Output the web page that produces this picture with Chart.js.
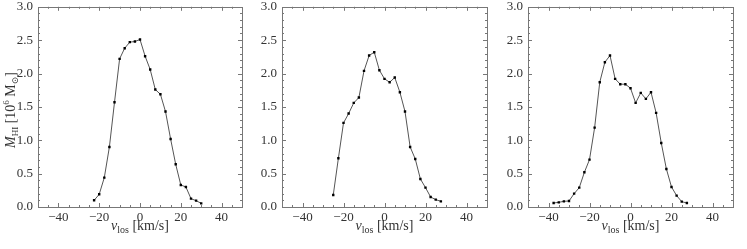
<!DOCTYPE html>
<html>
<head>
<meta charset="utf-8">
<script src="https://cdn.jsdelivr.net/npm/chart.js@4"></script>
<style>
  html, body { margin: 0; padding: 0; background: #fff; }
  #wrap { position: relative; width: 747px; height: 249px; overflow: hidden; }
  .panel { position: absolute; top: -6px; height: 255px; }
</style>
</head>
<body>
<div id="wrap">
  <div class="panel" id="p1" style="left:0px;width:246px"><canvas id="c1"></canvas></div>
  <div class="panel" id="p2" style="left:250px;width:241px"><canvas id="c2"></canvas></div>
  <div class="panel" id="p3" style="left:496px;width:241px"><canvas id="c3"></canvas></div>
</div>
<script>
// Line-of-sight velocity (km/s) and HI mass (10^6 Msun) per panel
const vlos1 = [-22.5, -20, -17.5, -15, -12.5, -10, -7.5, -5, -2.5, 0, 2.5, 5, 7.5, 10, 12.5, 15, 17.5, 20, 22.5, 25, 27.5, 30];
const mhi1  = [0.10, 0.19, 0.44, 0.90, 1.57, 2.22, 2.38, 2.47, 2.48, 2.51, 2.26, 2.06, 1.76, 1.69, 1.43, 1.02, 0.64, 0.33, 0.30, 0.125, 0.095, 0.055];

const vlos2 = [-25, -22.5, -20, -17.5, -15, -12.5, -10, -7.5, -5, -2.5, 0, 2.5, 5, 7.5, 10, 12.5, 15, 17.5, 20, 22.5, 25, 27.5];
const mhi2  = [0.18, 0.73, 1.26, 1.40, 1.56, 1.64, 2.04, 2.27, 2.32, 2.05, 1.92, 1.87, 1.94, 1.72, 1.43, 0.90, 0.72, 0.42, 0.29, 0.15, 0.11, 0.085];

const vlos3 = [-37.5, -35, -32.5, -30, -27.5, -25, -22.5, -20, -17.5, -15, -12.5, -10, -7.5, -5, -2.5, 0, 2.5, 5, 7.5, 10, 12.5, 15, 17.5, 20, 22.5, 25, 27.5];
const mhi3  = [0.06, 0.07, 0.085, 0.09, 0.20, 0.29, 0.52, 0.71, 1.19, 1.87, 2.17, 2.27, 1.92, 1.84, 1.84, 1.78, 1.56, 1.71, 1.62, 1.72, 1.41, 0.96, 0.57, 0.30, 0.17, 0.08, 0.06];

const xTicks = [-40, -20, 0, 20, 40];
const yTicks = [0, 0.5, 1.0, 1.5, 2.0, 2.5, 3.0];

const FONT = "'Liberation Serif', 'DejaVu Serif', serif";
const FRAME = '#777777';

// frame with inward major/minor ticks on all four sides
const framePlugin = {
    id: 'frame',
    afterDraw(chart) {
        const ctx = chart.ctx;
        const a = chart.chartArea;
        const xs = chart.scales.x, ys = chart.scales.y;
        ctx.save();
        ctx.strokeStyle = FRAME;
        ctx.lineWidth = 1;
        ctx.strokeRect(Math.round(a.left) + 0.5, Math.round(a.top) + 0.5,
                       Math.round(a.right - a.left), Math.round(a.bottom - a.top));
        ctx.beginPath();
        for (let v = -45; v <= 45; v += 5) {
            const px = Math.round(xs.getPixelForValue(v)) + 0.5;
            const len = (v % 20 === 0) ? 4 : 2;
            ctx.moveTo(px, a.bottom); ctx.lineTo(px, a.bottom - len);
            ctx.moveTo(px, a.top); ctx.lineTo(px, a.top + len);
        }
        for (let i = 1; i < 30; i++) {
            const v = i / 10;
            const py = Math.round(ys.getPixelForValue(v)) + 0.5;
            const len = (i % 5 === 0) ? 4 : 2;
            ctx.moveTo(a.left, py); ctx.lineTo(a.left + len, py);
            ctx.moveTo(a.right, py); ctx.lineTo(a.right - len, py);
        }
        ctx.stroke();
        ctx.restore();
    }
};

// draw a run of text pieces (mixed italic / sub / superscript)
function drawParts(ctx, parts, cx, baseline) {
    let total = 0;
    parts.forEach(p => { ctx.font = p.font; total += ctx.measureText(p.t).width; });
    let x = cx - total / 2;
    parts.forEach(p => {
        ctx.font = p.font;
        ctx.fillText(p.t, x, baseline + (p.dy || 0));
        x += ctx.measureText(p.t).width;
    });
}

// canvas is shifted up by 6px, so page y = canvas y - 6
const titlePlugin = {
    id: 'axisTitles',
    afterDraw(chart, args, opts) {
        const ctx = chart.ctx;
        const a = chart.chartArea;
        ctx.save();
        ctx.fillStyle = '#333333';
        ctx.textBaseline = 'alphabetic';
        ctx.textAlign = 'left';
        drawParts(ctx, [
            { t: 'v', font: 'italic 14px ' + FONT },
            { t: 'los', font: '10px ' + FONT, dy: 3 },
            { t: ' [km/s]', font: '14px ' + FONT }
        ], (a.left + a.right) / 2, 236);
        if (opts.yTitle) {
            ctx.translate(15, 116);
            ctx.rotate(-Math.PI / 2);
            drawParts(ctx, [
                { t: 'M', font: 'italic 14px ' + FONT },
                { t: 'HI', font: '9px ' + FONT, dy: 3 },
                { t: ' [10', font: '14px ' + FONT },
                { t: '6', font: '9px ' + FONT, dy: -6 },
                { t: ' M', font: '14px ' + FONT },
                { t: '\u2299', font: '9px ' + FONT, dy: 3 },
                { t: ']', font: '14px ' + FONT }
            ], 0, 0);
        }
        ctx.restore();
    }
};

function makePanel(id, vlos, mhi, yAxisWidth, showYTitle) {
    const points = vlos.map((v, i) => ({ x: v, y: mhi[i] }));
    return new Chart(document.getElementById(id), {
        type: 'line',
        data: {
            datasets: [{
                data: points,
                borderColor: '#555555',
                borderWidth: 1,
                pointStyle: 'rect',
                pointRadius: 1.7,
                pointBackgroundColor: '#000000',
                pointBorderColor: '#000000',
                pointBorderWidth: 0,
                tension: 0,
                fill: false
            }]
        },
        options: {
            responsive: true,
            maintainAspectRatio: false,
            animation: false,
            events: [],
            layout: { padding: { top: 0, right: 4, bottom: 0, left: 0 } },
            plugins: {
                legend: { display: false },
                tooltip: { enabled: false },
                axisTitles: { yTitle: showYTitle }
            },
            scales: {
                x: {
                    type: 'linear',
                    min: -50,
                    max: 50,
                    afterBuildTicks: s => { s.ticks = xTicks.map(v => ({ value: v })); },
                    afterFit: s => { s.height = 42; },
                    grid: { display: false, drawTicks: false, tickLength: 0 },
                    border: { display: false },
                    ticks: {
                        padding: 3,
                        color: '#333333',
                        font: { family: FONT, size: 13 },
                        maxRotation: 0,
                        callback: v => String(v).replace('-', '\u2212')
                    }
                },
                y: {
                    type: 'linear',
                    min: 0,
                    max: 3,
                    afterBuildTicks: s => { s.ticks = yTicks.map(v => ({ value: v })); },
                    afterFit: s => { s.width = yAxisWidth; },
                    grid: { display: false, drawTicks: false, tickLength: 0 },
                    border: { display: false },
                    ticks: {
                        padding: 5,
                        color: '#333333',
                        font: { family: FONT, size: 13 },
                        callback: v => v.toFixed(1)
                    }
                }
            }
        },
        plugins: [framePlugin, titlePlugin]
    });
}

makePanel('c1', vlos1, mhi1, 38, true);
makePanel('c2', vlos2, mhi2, 32, false);
makePanel('c3', vlos3, mhi3, 32, false);
</script>
</body>
</html>
